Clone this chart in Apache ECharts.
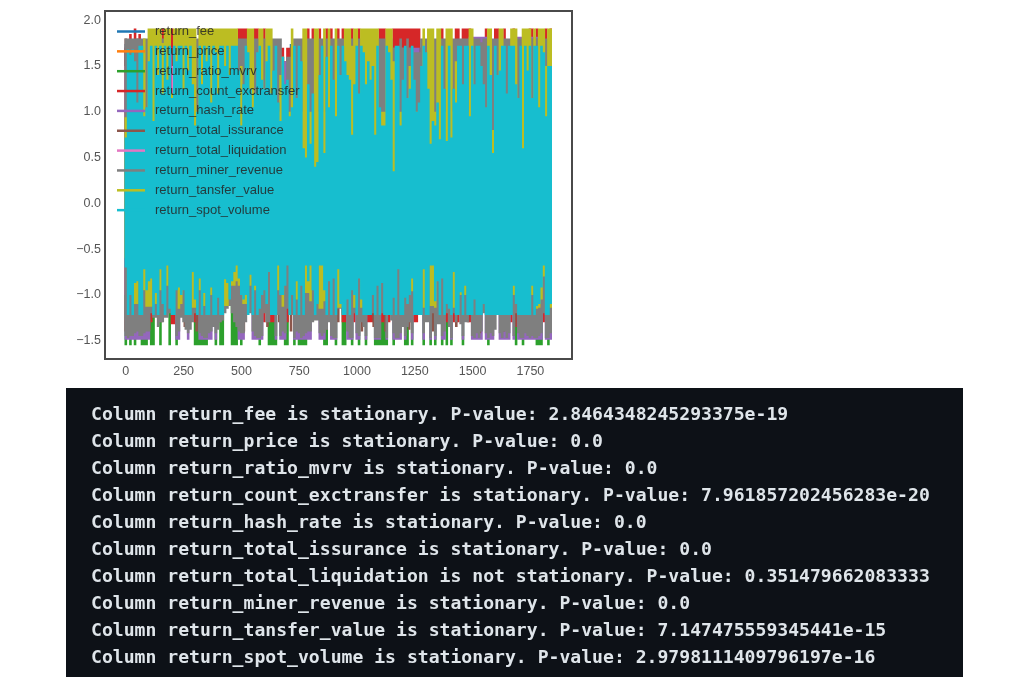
<!DOCTYPE html>
<html><head><meta charset="utf-8">
<style>html,body{margin:0;padding:0;background:#fff}#c{width:1023px;height:677px;filter:blur(.35px)}</style>
<script src="https://cdn.jsdelivr.net/npm/echarts@6/dist/echarts.min.js"></script>
</head><body><div id="c"></div>
<script>
const columns=['return_fee','return_price','return_ratio_mvrv','return_count_exctransfer','return_hash_rate','return_total_issurance','return_total_liquidation','return_miner_revenue','return_tansfer_value','return_spot_volume'];
const statuses=['is','is','is','is','is','is','is not','is','is','is'];
const pValues=['2.8464348245293375e-19','0.0','0.0','7.961857202456283e-20','0.0','0.0','0.351479662083333','0.0','7.147475559345441e-15','2.9798111409796197e-16'];
const colors=['#1f77b4','#ff7f0e','#2ca02c','#d62728','#9467bd','#8c564b','#e377c2','#7f7f7f','#bcbd22','#17becf'];
const lastDay=1838;

const feeTop=[1.74,1.74,1.72,1.74,1.74,1.72,1.74,1.74,1.72,1.74,1.74,1.72,1.74,1.74,1.72,1.74,1.74,1.72,1.74];
const feeBot=[-1,-1,-1,-1,-1,-1,-1,-1,-1,-1,-1,-1,-1,-1,-1,-1,-1,-1,-1];
const priceTop=[1.6,1.6,1.58,1.6,1.6,1.58,1.6,1.6,1.58,1.6,1.6,1.58,1.6,1.6,1.58,1.6,1.6,1.58,1.6];
const priceBot=[-1,-1,-1,-1,-1,-1,-1,-1,-1,-1,-1,-1,-1,-1,-1,-1,-1,-1,-1];
const liquidationTop=[1.5,1.5,1.5,1.5,1.5,1.5,1.5,1.5,1.5,1.5,1.5,1.5,1.5,1.5,1.5,1.5,1.5,1.5,1.5];
const liquidationBot=[-1,-1,-1,-1,-1,-1,-1,-1,-1,-1,-1,-1,-1,-1,-1,-1,-1,-1,-1];
const issuranceTop=[1.8,1.8,1.7,1.7,1.7,1.7,1.7,1.7,1.7,1.7,1.7,1.7,1.7,1.7,1.7,1.7,1.7,1.7,1.7,1.7,1.7,1.7,1.7,1.7,1.7,1.7,1.7,1.7,1.7,1.7,1.7,1.7,1.7,1.7,1.7,1.7,1.7];
const issuranceBot=[-1.4,-1.35,-1.38,-1.3,-1.2,-1.35,-1.4,-1.38,-1.3,-1.12,-1.4,-1.4,-1.35,-1.3,-1.4,-1.4,-1.25,-1.38,-1.3,-1.2,-1.4,-1.35,-1.4,-1.25,-1.38,-1.2,-1.4,-1.28,-1.35,-1.3,-1.42,-1.4,-1.4,-1.35,-1.4,-1.42,-1.4];

const cyanTop=[
.72,1.68,1.62,1.68,1.55,1.1,1.72,1.72,.95,1.05,
1.55,1.72,.9,1.72,1.4,1.72,1.2,1.72,1.35,1.72,
1.15,1.72,1.55,1.72,1.72,1.25,1.72,1.45,1.72,1.3,
.85,1,1.72,1.3,1.72,1.55,1.72,1.1,1.72,1.65,
1.2,1.72,1.72,1.5,1.72,1.4,1.72,1.72,1.72,1.45,
.85,1.3,1.72,1.65,1.25,1.05,1.2,1.65,1.72,1.35,
1.25,1.55,1.72,1.2,1.45,1.72,1.1,.9,1.6,1.3,
1.35,.95,1.05,1.72,1.15,1.72,1.55,.6,.5,1.3,
.65,1.2,.4,.45,1.4,1.72,.55,1.6,1.05,1.72,
1.35,.95,1.72,1.4,1.72,1.55,1.4,1.35,.75,1.3,
1.72,1.2,1.72,1.65,1.3,1.55,1.35,1.5,.75,1.72,
1.05,.85,.85,1.72,1.65,1.35,.35,1.72,1.72,.85,
1.35,1.72,1.15,1.25,1.72,1.35,1,1.1,1.5,1.72,
1.65,1.25,.65,.9,.85,1.1,.7,1.72,1.25,.68,
1.72,.72,1.25,1.1,1.72,1.72,1.3,1.72,1.72,.95,
1.72,1.3,1.72,1.72,1.5,1.3,1.05,1.72,1.4,.55,
1.72,1.4,1.45,1.72,1.72,1.2,1.72,1.72,1.72,1.3,
1.15,1.72,.6,1.72,1.45,1.72,1.15,1.72,1.72,1.05,
1.72,1.65,.95,1.5,1.5];
const cyanBot=[
-.7,-1.22,-1,-1.22,-.87,-.85,-1.22,-1.22,-.72,-.95,
-.85,-.82,-1.22,-.98,-1.22,-.72,-1.1,-1.22,-.68,-1.15,
-1.22,-1.22,-.95,-.92,-1,-.95,-1.22,-1.22,-1.22,-.75,
-1.05,-1.22,-.82,-1.22,-.98,-1.22,-1.22,-.92,-1.22,-1.22,
-1.03,-1.22,-1.22,-.83,-.87,-1.05,-.85,-.75,-.68,-.82,
-1,-1.05,-1,-1.22,-.78,-1.22,-.9,-1.22,-1.15,-1,
-.95,-1.1,-.75,-1.22,-1.22,-1.22,-.68,-1,-1,-.9,
-.68,-1.22,-1,-1.22,-.85,-1.22,-.9,-1.22,-.68,-.85,
-.68,-.95,-1.22,-1.1,-.68,-.68,-.95,-1.22,-.85,-1.22,
-.82,-1.22,-.72,-1.1,-1.22,-1.22,-1.05,-1.22,-.95,-1,
-1.22,-.82,-1.05,-1.22,-1.22,-1.22,-1.22,-1,-1.22,-.9,
-1.22,-.87,-1.22,-1.22,-1.22,-1.22,-1.03,-1.22,-.72,-1.22,
-1.22,-1.03,-1.1,-1,-.82,-1.22,-1.22,-1.22,-1.22,-.72,
-1.22,-1.22,-.68,-.68,-1.07,-.85,-1.22,-.82,-1.22,-1.1,
-1.15,-1.22,-.75,-1.22,-1.22,-.97,-1.22,-.9,-1.22,-1.22,
-1.22,-1.05,-1.22,-1.22,-1.22,-1.1,-1.22,-1.22,-1.22,-1.22,
-1.22,-1.22,-1.22,-1.22,-1.22,-1.22,-1.22,-1.22,-.9,-1.1,
-1.22,-1.22,-1.22,-1.22,-1.22,-1.22,-.9,-1.22,-1.12,-1.1,
-.92,-.68,-1.22,-1.22,-1.1];
const oliveTop=[
.94,1,1,1,1,1,1,1,1.8,1,
1.91,1.91,1.91,1.91,1.91,1.91,1.75,1.91,1.91,1.91,
1.2,1.91,1.91,1.91,1.91,1.91,1.91,1.91,1.91,1.91,
1.91,1,1.91,1.91,1.91,1.91,1.91,1.91,1.91,1.91,
1.91,1.91,1.91,1.91,1.91,1.91,1.91,1.91,1.91,1,
1.5,1,1,1.91,1.91,1.91,1,1,1.91,1.91,
1,1.91,1.91,1.91,1,1,1,1.4,1.6,1,
1,1,1.91,1,1,1,1,1.91,1.91,1,
1,1,1.91,1.91,1,1,1.91,1,1.91,1,
1,1.91,1,1,1,1.91,1.91,1.91,1.72,1.91,
1.91,1,1.91,1.91,1.91,1.91,1.91,1.91,1.91,1.91,
1,1,1,1.91,1.91,1.91,1.55,1,1,1,
1,1,1,1.5,1,1,1,1,1,1.91,
1,1.91,1.91,1.91,1,1.91,1.91,1,1,1.91,
1.91,1.91,1,1.55,1,1,1,1,1,1.91,
1.91,1,1,1,1,1,1,1.91,1.91,.8,
1,1,1.91,1.91,1,1,1,1.91,1.91,1.91,
1,1,1.91,1.91,1.91,1.91,1,1.91,1,1.91,
1.91,1.91,1.5,1.91,1.91];
const oliveBot=[
-.6,-.6,-.6,-.6,-1.1,-1.1,-.6,-.6,-.95,-1.13,
-1.13,-1.13,-.6,-1.1,-.6,-.95,-.6,-.6,-.9,-.6,
-.6,-.6,-.6,-1.15,-1.1,-.6,-.6,-.6,-.6,-1.14,
-1.14,-.6,-.95,-.6,-1.12,-.6,-.6,-1,-.6,-.6,
-.6,-.6,-.6,-1.12,-1.12,-.6,-.9,-.9,-.85,-.9,
-.6,-1.1,-1.1,-.6,-.9,-.6,-.95,-.6,-.6,-.6,
-.6,-.6,-.6,-.6,-.6,-.6,-.95,-.6,-1.13,-.6,
-.6,-.6,-.6,-.6,-1.05,-.6,-.6,-.6,-.98,-.98,
-1.07,-.6,-.6,-.6,-1.15,-1.15,-1.07,-.6,-.6,-.6,
-.6,-.6,-1.14,-1.14,-.6,-.6,-.6,-.6,-.6,-1.14,
-.6,-.6,-1.14,-.6,-.6,-.6,-.6,-.6,-.6,-.6,
-.6,-.6,-.6,-.6,-.6,-.6,-.6,-.6,-.6,-.6,
-.6,-.6,-.6,-.6,-.96,-.6,-.6,-.6,-.6,-1.14,
-.6,-.6,-1.12,-1.12,-1.14,-.6,-.6,-.6,-.6,-.6,
-.6,-.6,-1.14,-.6,-.6,-1,-.6,-1,-.6,-.6,
-.6,-.6,-.6,-.6,-.6,-.6,-.6,-.6,-.6,-.6,
-.6,-.6,-.6,-.6,-.6,-.6,-.6,-.6,-1,-.6,
-.6,-.6,-.6,-.6,-.6,-.6,-1,-.6,-1.15,-1.14,
-1.05,-.8,-.6,-.6,-1.14];
const grayTop=[
1.8,1.8,1.8,1.8,1.8,1.8,1.8,1.8,1.8,1.8,
1.8,1.8,1.8,1.8,1.8,1.8,1.8,1.8,1.8,1.8,
1.2,1.8,1.8,1.8,1.8,1.8,1.8,1.8,1.8,1.8,
1.8,1.8,1.8,1.8,1.8,1.8,1.8,1.8,1.8,1.8,
1.8,1.8,1.8,1.8,1.8,1.8,1.8,1.8,1.8,1.8,
1.8,1.8,1.8,1.8,1.8,1.8,1.8,1.8,1.8,1.8,
1.8,1.8,1.8,1.8,1.8,1.8,1.8,1.8,1.6,1.3,
1.6,1.6,1.6,1.8,1.8,1.8,1.8,1.8,1.8,1.8,
1.8,1.8,1.8,1.8,1.8,1.8,1.8,1.8,1.8,1.8,
1.8,1.8,1.8,1.8,1.8,1.8,1.8,1.8,1.8,1.8,
1.8,1.8,1.8,1.8,1.8,1.8,1.8,1.8,1.8,1.8,
1.8,1.8,1.8,1.8,1.8,1.8,1.7,1.7,1.7,1.8,
1.7,1.7,1.8,1.7,1.7,1.65,1.65,1.65,1.8,1.8,
1.8,1.8,1.8,1.8,1.8,1.8,1.8,1.8,1.8,1.8,
1.8,1.8,1.8,1.8,1.8,1.8,1.8,1.8,1.8,1.8,
1.8,1.8,1.8,1.8,1.76,1.8,1.8,1.8,1.8,1.8,
1.8,1.8,1.8,1.8,1.8,1.8,1.8,1.8,1.8,1.8,
1.8,1.8,1.8,1.8,1.8,1.8,1.8,1.8,1.8,1.8,
1.8,1.8,1.8,1.8,1.8];
const grayBot=[
-1.45,-1.47,-1.45,-1.45,-1.42,-1.4,-1.45,-1.45,-1.42,-1.4,
-1.4,-1.2,-1.25,-1.25,-1.35,-1.3,-1.3,-1.25,-1.25,-1.2,
-1.2,-1.2,-1.45,-1.4,-1.25,-1.3,-1.38,-1.42,-1.38,-1.3,
-1.2,-1.2,-1.42,-1.45,-1.47,-1.47,-1.42,-1.4,-1.35,-1.42,
-1.38,-1.3,-1.28,-1.2,-1.15,-1.12,-1.2,-1.3,-1.35,-1.4,
-1.42,-1.42,-1.3,-1.2,-1.2,-1.4,-1.45,-1.47,-1.47,-1.45,
-1.2,-1.3,-1.3,-1.2,-1.2,-1.45,-1.22,-1.45,-1.4,-1.42,
-1.15,-1.22,-1.22,-1.47,-1.4,-1.42,-1.47,-1.45,-1.42,-1.4,
-1.4,-1.3,-1.28,-1.28,-1.42,-1.45,-1.42,-1.38,-1.3,-1.45,
-1.47,-1.47,-1.15,-1.15,-1.2,-1.2,-1.4,-1.47,-1.47,-1.2,
-1.42,-1.45,-1.3,-1.35,-1.45,-1.2,-1.2,-1.2,-1.47,-1.47,
-1.47,-1.2,-1.2,-1.47,-1.2,-1.28,-1.42,-1.47,-1.47,-1.42,
-1.35,-1.45,-1.35,-1.3,-1.42,-1.2,-1.2,-1.22,-1.22,-1.42,
-1.3,-1.3,-1.47,-1.2,-1.45,-1.32,-1.32,-1.45,-1.4,-1.2,
-1.35,-1.47,-1.2,-1.3,-1.2,-1.32,-1.45,-1.3,-1.3,-1.2,
-1.45,-1.47,-1.42,-1.47,-1.4,-1.2,-1.42,-1.47,-1.42,-1.45,
-1.38,-1.2,-1.42,-1.47,-1.4,-1.47,-1.42,-1.2,-1.45,-1.2,
-1.42,-1.47,-1.47,-1.42,-1.45,-1.47,-1.45,-1.47,-1.47,-1.45,
-1.42,-1.2,-1.47,-1.47,-1.42];
const redTop=[
1.7,1.7,1.85,1.7,1.91,1.7,1.85,1.7,1.7,1.7,
1.7,1.7,1.7,1.7,1.7,1.7,1.91,1.7,1.7,1.7,
1.91,1.7,1.7,1.7,1.7,1.7,1.7,1.7,1.7,1.7,
1.7,1.7,1.7,1.7,1.7,1.7,1.7,1.7,1.7,1.7,
1.7,1.7,1.7,1.7,1.7,1.7,1.7,1.7,1.7,1.91,
1.91,1.91,1.91,1.7,1.7,1.7,1.91,1.91,1.7,1.7,
1.91,1.7,1.7,1.7,1.7,1.7,1.7,1.7,1.7,1.55,
1.7,1.7,1.7,1.7,1.7,1.7,1.7,1.7,1.7,1.91,
1.7,1.91,1.7,1.7,1.91,1.7,1.7,1.91,1.7,1.91,
1.7,1.7,1.91,1.7,1.91,1.7,1.7,1.7,1.91,1.7,
1.7,1.91,1.7,1.7,1.7,1.7,1.7,1.7,1.7,1.7,
1.91,1.91,1.91,1.7,1.7,1.7,1.91,1.91,1.91,1.91,
1.91,1.91,1.91,1.91,1.91,1.91,1.91,1.91,1.7,1.7,
1.7,1.7,1.7,1.7,1.7,1.7,1.7,1.91,1.7,1.7,
1.7,1.7,1.7,1.91,1.91,1.7,1.91,1.91,1.91,1.91,
1.7,1.7,1.7,1.7,1.7,1.7,1.91,1.7,1.7,1.7,
1.91,1.91,1.7,1.7,1.91,1.7,1.7,1.7,1.91,1.7,
1.7,1.7,1.7,1.7,1.7,1.91,1.91,1.7,1.91,1.7,
1.7,1.7,1.91,1.7,1.91];
const redBot=[
-1,-1,-1,-1,-1,-1,-1,-1,-1,-1,
-1,-1.3,-1,-1,-1,-1,-1,-1,-1,-1,
-1.32,-1.32,-1,-1,-1,-1,-1,-1,-1,-1,
-1.3,-1.3,-1,-1,-1,-1,-1,-1,-1,-1,
-1,-1,-1,-1,-1.12,-1,-1,-1,-1,-1,
-1,-1,-1,-1,-1,-1,-1,-1,-1,-1,
-1.3,-1,-1,-1.3,-1.3,-1,-1,-1,-1,-1,
-1.3,-1,-1,-1,-1,-1,-1,-1,-1,-1,
-1,-1,-1,-1,-1,-1,-1,-1,-1,-1,
-1,-1,-1,-1,-1.3,-1.3,-1,-1,-1,-1.3,
-1,-1,-1,-1,-1,-1.3,-1.3,-1.3,-1,-1,
-1,-1.3,-1.3,-1,-1.3,-1,-1,-1,-1,-1,
-1,-1,-1,-1.3,-1,-1.3,-1.3,-1,-1,-1,
-1,-1,-1,-1.3,-1,-1,-1,-1,-1,-1.3,
-1,-1,-1.3,-1,-1.3,-1,-1,-1,-1,-1.3,
-1,-1,-1,-1,-1,-1,-1,-1,-1,-1,
-1,-1,-1,-1,-1,-1,-1,-1.3,-1,-1.35,
-1,-1,-1,-1,-1,-1,-1,-1,-1,-1,
-1,-1.3,-1,-1,-1];
const mvrvTop=[1.5,1.5,1.5,1.5,1.5,1.5,1.5,1.5,1.5,1.5,1.5,1.5,1.5,1.5,1.5,1.5,1.5,1.5,1.5];
const mvrvBot=[
-1.55,-1,-1.55,-1,-1.55,-1,-1,-1.55,-1.55,-1.55,
-1,-1.55,-1.55,-1,-1,-1.55,-1,-1,-1,-1.55,
-1,-1,-1.55,-1,-1,-1,-1,-1,-1,-1,
-1.55,-1.55,-1.55,-1.55,-1.55,-1.55,-1,-1,-1,-1.55,
-1,-1.55,-1.55,-1,-1,-1,-1.55,-1.55,-1.55,-1,
-1.55,-1,-1,-1,-1,-1,-1,-1,-1.55,-1,
-1,-1,-1.55,-1.55,-1.55,-1.55,-1,-1,-1,-1.55,
-1.55,-1,-1,-1.55,-1,-1.55,-1.55,-1.55,-1.55,-1,
-1,-1,-1,-1,-1,-1,-1.55,-1.55,-1,-1,
-1,-1.55,-1,-1,-1.55,-1.55,-1,-1,-1.55,-1,
-1,-1.55,-1,-1,-1.55,-1,-1,-1,-1.55,-1.55,
-1.55,-1.55,-1.55,-1.55,-1,-1,-1.55,-1,-1,-1,
-1,-1.55,-1.55,-1,-1.55,-1,-1,-1,-1,-1.55,
-1,-1,-1.55,-1,-1.55,-1,-1,-1.55,-1,-1.55,
-1,-1.55,-1,-1,-1,-1,-1.55,-1,-1,-1,
-1,-1,-1,-1,-1,-1,-1,-1.55,-1,-1,
-1,-1,-1,-1,-1,-1,-1,-1,-1,-1.55,
-1,-1,-1.55,-1,-1,-1,-1,-1,-1.55,-1.55,
-1.55,-1,-1,-1.55,-1];
const hashTop=[1.7,1.7,1.7,1.7,1.7,1.7,1.55,1.55,1.7,1.7,1.7,1.7,1.7,1.7,1.7,1.82,1.7,1.82,1.7];
const hashBot=[
-1.49,-1.49,-1.49,-1.49,-1.49,-1.49,-1.49,-1.49,-1.49,-1.49,
-1.49,-1.1,-1.1,-1.1,-1.1,-1.1,-1.1,-1.1,-1.1,-1.1,
-1.1,-1.1,-1.49,-1.49,-1.1,-1.1,-1.1,-1.49,-1.1,-1.1,
-1.1,-1.1,-1.49,-1.49,-1.49,-1.49,-1.49,-1.49,-1.1,-1.49,
-1.1,-1.1,-1.1,-1.1,-1.1,-1.1,-1.1,-1.1,-1.1,-1.49,
-1.49,-1.49,-1.1,-1.1,-1.1,-1.49,-1.49,-1.49,-1.49,-1.49,
-1.1,-1.1,-1.1,-1.1,-1.1,-1.49,-1.1,-1.49,-1.49,-1.49,
-1.1,-1.1,-1.1,-1.49,-1.49,-1.49,-1.49,-1.49,-1.49,-1.49,
-1.49,-1.1,-1.1,-1.1,-1.49,-1.49,-1.49,-1.1,-1.1,-1.49,
-1.49,-1.49,-1.1,-1.1,-1.1,-1.1,-1.49,-1.49,-1.49,-1.1,
-1.49,-1.49,-1.1,-1.1,-1.49,-1.1,-1.1,-1.1,-1.49,-1.49,
-1.49,-1.1,-1.1,-1.49,-1.1,-1.1,-1.49,-1.49,-1.49,-1.49,
-1.1,-1.49,-1.1,-1.1,-1.49,-1.1,-1.1,-1.1,-1.1,-1.49,
-1.1,-1.1,-1.49,-1.1,-1.49,-1.1,-1.1,-1.49,-1.49,-1.1,
-1.1,-1.49,-1.1,-1.1,-1.1,-1.1,-1.49,-1.1,-1.1,-1.1,
-1.49,-1.49,-1.49,-1.49,-1.49,-1.1,-1.49,-1.49,-1.49,-1.49,
-1.1,-1.1,-1.49,-1.49,-1.49,-1.49,-1.49,-1.1,-1.49,-1.1,
-1.49,-1.49,-1.49,-1.49,-1.49,-1.49,-1.49,-1.49,-1.49,-1.49,
-1.49,-1.1,-1.49,-1.49,-1.49];

const tops=[feeTop,priceTop,mvrvTop,redTop,hashTop,issuranceTop,liquidationTop,grayTop,oliveTop,cyanTop];
const bots=[feeBot,priceBot,mvrvBot,redBot,hashBot,issuranceBot,liquidationBot,grayBot,oliveBot,cyanBot];

function columnPoints(top,bot){
  const n=bot.length, step=lastDay/(n-1), pts=[];
  for(let i=0;i<n;i++){
    const x=i*step, t=top[Math.round(i*(top.length-1)/(n-1))];
    pts.push([x,0],[x,t],[x,bot[i]],[x,0]);
  }
  return pts;
}

const chart=echarts.init(document.getElementById('c'),null,{renderer:'canvas'});
const textFont='"DejaVu Sans Mono",monospace';
const graphics=[{type:'rect',shape:{x:66,y:388,width:897,height:289},style:{fill:'#0d1117'},silent:true}];
columns.forEach((c,k)=>{
  graphics.push({type:'text',x:91,y:415+27*k,silent:true,style:{
    text:'Column '+c+' '+statuses[k]+' stationary. P-value: '+pValues[k],
    font:'600 18.1px '+textFont,fill:'#dfe5ea',textVerticalAlign:'middle',textBaseline:'middle'}});
});
chart.setOption({
  animation:false,
  backgroundColor:'#fff',
  color:colors,
  grid:{left:105,top:11,width:467,height:348,show:true,borderColor:'#4a4a4a',borderWidth:2,backgroundColor:'#fff',containLabel:false},
  legend:{show:true,orient:'vertical',left:112,top:20,data:columns,selectedMode:false,icon:'rect',itemWidth:28,itemHeight:2.5,itemGap:6.85,
    textStyle:{fontFamily:'"Liberation Sans",Arial,sans-serif',fontSize:13,color:'rgba(38,38,38,.85)',padding:[0,0,0,5]}},
  xAxis:{type:'value',min:-90,max:1930,interval:10,splitLine:{show:false},axisLine:{show:false},axisTick:{show:false},
    axisLabel:{interval:0,margin:6,color:'#555',fontFamily:'"Liberation Sans",Arial,sans-serif',fontSize:12.5,showMinLabel:true,showMaxLabel:true,hideOverlap:false,
      formatter:v=>(v>=0&&v%250===0)?String(v):''}},
  yAxis:{type:'value',min:-1.7,max:2.1,interval:.1,splitLine:{show:false},axisLine:{show:false},axisTick:{show:false},
    axisLabel:{interval:0,margin:4,color:'#555',fontFamily:'"Liberation Sans",Arial,sans-serif',fontSize:12.5,hideOverlap:false,
      formatter:v=>{const t=Math.round(v*10);if(t%5!==0)return '';return (t<0?'\u2212':'')+(Math.abs(t)/10).toFixed(1);}}},
  series:columns.map((c,k)=>({name:c,type:'line',data:columnPoints(tops[k],bots[k]),showSymbol:false,symbol:'none',
    silent:true,clip:true,lineStyle:{width:2.6,color:colors[k],join:'bevel',cap:'butt'},itemStyle:{color:colors[k]},z:2+k*0.01})),
  graphic:graphics
});
</script></body></html>
